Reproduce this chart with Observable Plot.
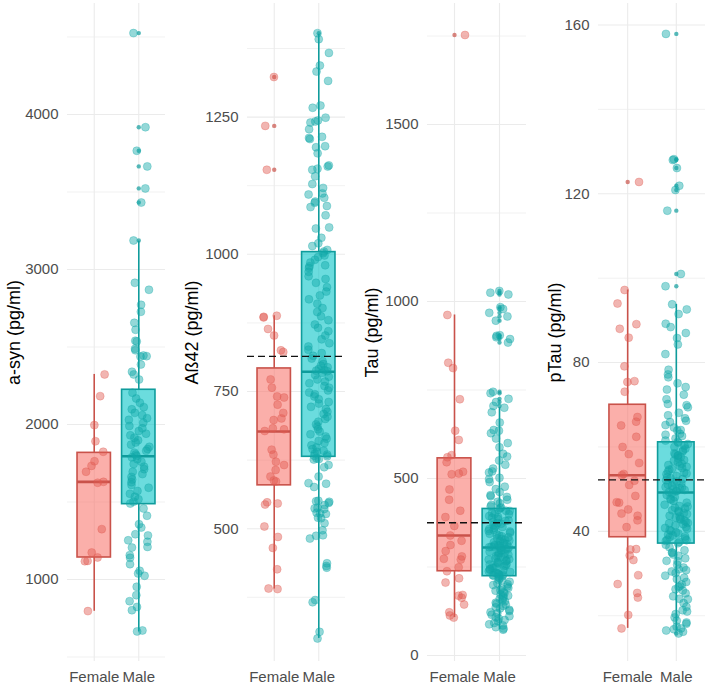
<!DOCTYPE html>
<html><head><meta charset="utf-8">
<script src="https://cdn.jsdelivr.net/npm/d3@7"></script>
<script src="https://cdn.jsdelivr.net/npm/@observablehq/plot@0.6"></script>
<style>
body{margin:0;background:#fff;}
#row{display:flex;width:709px;height:687px;}
#row svg{display:block;}
</style></head><body><div id="row"></div>
<script>
// ---------- categories & labels ----------
const groups = ["Female", "Male"];
const panelTitles = ["a-syn (pg/ml)", "Aß42 (pg/ml)", "Tau (pg/ml)", "pTau (pg/ml)"];

// ---------- tick labels ----------
const asynTicks = [1000, 2000, 3000, 4000];
const asynMinor = [500, 1500, 2500, 3500, 4500];
const abTicks = [500, 750, 1000, 1250];
const abMinor = [375, 625, 875, 1125, 1375];
const tauTicks = [0, 500, 1000, 1500];
const tauMinor = [250, 750, 1250, 1750];
const ptauTicks = [40, 80, 120, 160];
const ptauMinor = [20, 60, 100, 140];

// ---------- box statistics [lower whisker, Q1, median, Q3, upper whisker] ----------
const asynBoxFemale = [795, 1142, 1630, 1817, 2323];
const asynBoxMale = [662, 1486, 1795, 2224, 3183];
const abBoxFemale = [390, 579, 677, 792, 888];
const abBoxMale = [300, 631, 786, 1004, 1401];
const tauBoxFemale = [107, 238, 339, 557, 962];
const tauBoxMale = [73, 224, 305, 414, 700];
const ptauBoxFemale = [17.0, 38.6, 53.3, 70.0, 97.2];
const ptauBoxMale = [16.5, 37.1, 49.2, 61.1, 93.8];

// ---------- reference (dashed) lines ----------
const abRef = [814];
const tauRef = [375];
const ptauRef = [52.2];

// ---------- observations ----------
const asynFemale = [2323, 2183, 1996, 1892, 1824, 1763, 1733, 1695, 1630, 1624, 1325, 1174, 1142, 1118, 1120, 796];
const asynMale = [4525, 3918, 3766, 3665, 3523, 3432,
  3187, 2914, 2869, 2772, 2727, 2656, 2611, 2540, 2536, 2488, 2479, 2441, 2445, 2438, 2387, 2340, 2323, 2290,
  2205, 2168, 2140, 2112, 2098, 2075, 2060, 2041, 2030, 2012, 1990, 1975, 1958, 1941, 1930, 1915, 1898, 1884,
  1870, 1856, 1842, 1830, 1818, 1806, 1797, 1788, 1776, 1760, 1745, 1728, 1712, 1695, 1680, 1662, 1645, 1628,
  1610, 1592, 1571, 1553, 1534, 1518, 1502, 1490,
  1458, 1411, 1357, 1335, 1292, 1284, 1253, 1243, 1210, 1206, 1157, 1140, 1099, 1056, 1039, 1024, 953, 899,
  860, 823, 802, 671, 665];

const abFemale = [1323, 1234, 1154, 888, 886, 885, 864, 852, 825, 822, 772, 757, 741, 739, 726, 711, 701, 698,
  681, 683, 678, 644, 635, 622, 616, 607, 595, 586, 588, 546, 548, 544, 504, 485, 465, 426, 390, 391];
const abMale = [1403, 1392, 1367, 1344, 1333, 1316, 1271, 1267, 1249, 1242, 1240, 1244, 1228, 1212, 1210, 1214,
  1197, 1195, 1184, 1160, 1162, 1156, 1154, 1142, 1128, 1121, 1111, 1109, 1103, 1096, 1094, 1086, 1088, 1071,
  1049, 1047, 1030, 1020, 1015, 1008, 1005,
  1002, 998, 995, 990, 985, 980, 978, 975, 968, 960, 955, 948, 940, 932, 925, 918, 910, 902, 895, 887, 880,
  872, 866, 860, 852, 845, 838, 832, 826, 820, 815, 810, 805, 800, 797, 794, 791, 789, 788, 787,
  784, 780, 777, 772, 768, 765, 760, 757, 752, 748, 745, 741, 736, 731, 728, 722, 718, 713, 709, 704, 700,
  695, 690, 686, 681, 677, 672, 668, 664, 660, 656, 652, 648, 645, 642, 640, 637, 635, 633, 632,
  628, 627, 626, 616, 612, 595, 582, 583, 576, 549, 551, 547, 550, 543, 537, 538, 536, 528, 529, 527, 519,
  520, 510, 497, 487, 488, 482, 437, 432, 429, 370, 366, 312, 300];

const tauFemale = [1753, 962, 827, 812, 724, 635, 609, 566, 560, 546, 519, 512, 514, 469, 440, 409, 391, 366,
  339, 324, 312, 295, 280, 271, 273, 249, 238, 218, 206, 169, 171, 163, 144, 122, 113, 107];
const tauMale = [1030, 1025, 1020, 984, 979, 968, 958, 946, 903, 905, 899, 894, 884, 745, 741, 725, 716, 705,
  700, 687, 658, 637, 635, 628, 613, 600, 588, 570, 562, 551, 539, 528, 520, 517, 502, 498, 490, 477, 470,
  462, 453, 450, 448, 440, 434, 430, 425, 421, 418, 416,
  412, 409, 408, 403, 400, 399, 394, 391, 389, 386, 382, 380, 377, 374, 372, 368, 366, 363, 361, 357, 355,
  352, 350, 347, 344, 342, 339, 337, 334, 331, 329, 327, 325, 322, 320, 318, 316, 314, 312, 311, 309, 308,
  307, 306, 305, 305,
  304, 301, 300, 297, 296, 293, 291, 289, 288, 285, 283, 281, 278, 277, 274, 272, 271, 268, 266, 264, 262,
  260, 258, 257, 254, 252, 250, 248, 247, 244, 242, 240, 238, 236, 234, 233, 231, 230, 228, 227, 226, 225, 224,
  221, 218, 214, 212, 208, 204, 201, 199, 195, 191, 189, 185, 183, 179, 176, 172, 169, 167, 163, 160, 156,
  153, 149, 146, 144, 140, 136, 133, 129, 126, 122, 119, 115, 111, 108, 104, 100, 97, 92, 88, 85, 80, 76, 73];

const ptauFemale = [122.8, 97.2, 94.0, 89.1, 88.0, 85.9, 79.1, 75.4, 75.6, 73.1, 67.1, 66.0, 65.1, 62.4, 60.0,
  58.3, 56.2, 53.6, 53.3, 52.0, 51.0, 48.4, 46.8, 46.9, 45.2, 44.2, 43.7, 42.6, 41.0, 35.8, 35.7, 34.3, 33.2,
  29.6, 27.5, 25.4, 24.3, 20.2, 17.0];
const ptauMale = [157.9, 128.2, 128.0, 126.1, 121.9, 120.9, 116.0, 101.0, 98.1,
  93.8, 92.6, 91.5, 89.2, 88.4, 87.0, 85.8, 84.3, 82.0, 78.3, 77.2, 76.5, 75.1, 74.2, 73.6, 72.4, 71.3, 70.2,
  69.9, 69.4, 68.1, 67.5, 66.8, 66.2, 65.9, 65.2, 64.6, 64.0, 63.9, 63.1, 62.9, 62.6, 62.0, 61.5, 61.2,
  61.0, 60.7, 60.3, 60.0, 59.6, 59.2, 58.9, 58.5, 58.2, 58.0, 57.9, 57.6, 57.3, 56.9, 56.7, 56.4, 56.0, 55.7,
  55.5, 55.3, 55.0, 54.8, 54.6, 54.2, 53.9, 53.7, 53.5, 53.1, 52.8, 52.6, 52.4, 52.1, 51.8, 51.6, 51.4, 51.1,
  50.8, 50.5, 50.4, 50.2, 49.9, 49.8, 49.7, 49.5, 49.3,
  49.0, 48.6, 48.1, 47.7, 47.5, 47.2, 46.8, 46.3, 46.0, 45.9, 45.6, 45.4, 45.0, 44.8, 44.6, 44.3, 44.1, 43.7,
  43.5, 43.2, 43.0, 42.8, 42.5, 42.3, 42.0, 41.9, 41.7, 41.4, 41.0, 40.8, 40.6, 40.3, 40.1, 39.7, 39.5, 39.2,
  39.0, 38.8, 38.6, 38.3, 38.0, 37.9, 37.7, 37.5, 37.2,
  36.8, 36.2, 35.5, 35.0, 34.9, 34.5, 34.2, 33.6, 33.0, 32.9, 32.1, 31.4, 31.0, 30.8, 30.5, 30.1, 29.5, 29.0,
  28.7, 28.0, 27.4, 27.0, 26.8, 26.3, 26.0, 25.3, 24.6, 24.0, 23.9, 23.0, 22.1, 21.3, 21.0, 20.4, 19.6, 18.8,
  18.4, 18.1, 17.4, 17.0, 16.8, 16.5, 16.2, 15.8];

// ---------- styling / layout (not data) ----------
const colors = {
  Female: {fill: "#F8766D", stroke: "#C9524A", point: "#E05A52", out: "#C9524A"},
  Male: {fill: "#00C2C6", stroke: "#0F9C9C", point: "#12A8A8", out: "#0F9C9C"}
};
const panels = [
  {title: panelTitles[0], fem: asynFemale, male: asynMale, boxF: asynBoxFemale, boxM: asynBoxMale, ref: [],
   ticks: asynTicks, minor: asynMinor, domain: [471, 4716], width: 177, ml: 67, mr: 12, tdx: -53, seed: 0.11},
  {title: panelTitles[1], fem: abFemale, male: abMale, boxF: abBoxFemale, boxM: abBoxMale, ref: abRef,
   ticks: abTicks, minor: abMinor, domain: [258, 1457], width: 177, ml: 70, mr: 9, tdx: -55, seed: 0.37},
  {title: panelTitles[2], fem: tauFemale, male: tauMale, boxF: tauBoxFemale, boxM: tauBoxMale, ref: tauRef,
   ticks: tauTicks, minor: tauMinor, domain: [-17, 1842], width: 177, ml: 73, mr: 5, tdx: -55, seed: 0.59},
  {title: panelTitles[3], fem: ptauFemale, male: ptauMale, boxF: ptauBoxFemale, boxM: ptauBoxMale, ref: ptauRef,
   ticks: ptauTicks, minor: ptauMinor, domain: [9.15, 165.1], width: 178, ml: 67, mr: 4, tdx: -43, seed: 0.83}
];

const font = "'Liberation Sans', Arial, Helvetica, sans-serif";
const row = document.getElementById("row");

for (const p of panels) {
  const rng = d3.randomUniform.source(d3.randomLcg(p.seed))(-0.24, 0.24);
  const pts = [];
  p.fem.forEach(v => pts.push({g: "Female", pos: 1, v, jit: rng()}));
  p.male.forEach(v => pts.push({g: "Male", pos: 2, v, jit: rng()}));
  const boxes = [
    {g: "Female", pos: 1, lo: p.boxF[0], q1: p.boxF[1], med: p.boxF[2], q3: p.boxF[3], hi: p.boxF[4]},
    {g: "Male", pos: 2, lo: p.boxM[0], q1: p.boxM[1], med: p.boxM[2], q3: p.boxM[3], hi: p.boxM[4]}
  ];
  const outliers = pts.filter(d => {
    const b = boxes[d.pos - 1];
    return d.v > b.hi + 0.5 || d.v < b.lo - 0.5;
  });
  const hw = 0.375;

  const chart = Plot.plot({
    width: p.width,
    height: 687,
    marginTop: 3,
    marginBottom: 26,
    marginLeft: p.ml,
    marginRight: p.mr,
    x: {type: "linear", domain: [0.4, 2.6], axis: null},
    y: {domain: p.domain, axis: null},
    style: {fontFamily: font, background: "white", overflow: "visible"},
    marks: [
      Plot.ruleY(p.minor, {stroke: "#EEEEEE", strokeWidth: 0.8}),
      Plot.ruleY(p.ticks, {stroke: "#EBEBEB", strokeWidth: 1.1}),
      Plot.ruleX([1, 2], {stroke: "#EBEBEB", strokeWidth: 1.1}),
      // whiskers
      Plot.ruleX(boxes, {x: "pos", y1: "lo", y2: "q1", stroke: d => colors[d.g].stroke, strokeWidth: 1.6}),
      Plot.ruleX(boxes, {x: "pos", y1: "q3", y2: "hi", stroke: d => colors[d.g].stroke, strokeWidth: 1.6}),
      // boxes
      Plot.rect(boxes, {x1: d => d.pos - hw, x2: d => d.pos + hw, y1: "q1", y2: "q3",
        fill: d => colors[d.g].fill, fillOpacity: 0.58, stroke: d => colors[d.g].stroke, strokeWidth: 1.6}),
      Plot.ruleY(boxes, {y: "med", x1: d => d.pos - hw, x2: d => d.pos + hw,
        stroke: d => colors[d.g].stroke, strokeWidth: 2.6}),
      // boxplot outliers
      Plot.dot(outliers, {x: "pos", y: "v", r: 2.2, fill: d => colors[d.g].out, fillOpacity: 0.7, stroke: "none"}),
      // jittered points
      Plot.dot(pts, {x: d => d.pos + d.jit, y: "v", r: 4, fill: d => colors[d.g].point, fillOpacity: 0.45,
        stroke: d => colors[d.g].point, strokeOpacity: 0.5, strokeWidth: 0.6}),
      // dashed reference
      Plot.ruleY(p.ref, {stroke: "#111", strokeWidth: 1.4, strokeDasharray: "7,4"}),
      // axes
      Plot.axisY({ticks: p.ticks, tickSize: 0, tickPadding: 9, tickFormat: d => String(d), label: null,
        fontSize: 15, fill: "#4D4D4D"}),
      Plot.axisX({ticks: [1, 2], tickSize: 0, tickPadding: 10, tickFormat: d => groups[d - 1], label: null,
        fontSize: 15, fill: "#4D4D4D"}),
      Plot.text([p.title], {text: d => d, frameAnchor: "left", dx: p.tdx, rotate: -90, fontSize: 18,
        fill: "#000", textAnchor: "middle"})
    ]
  });
  row.appendChild(chart);
}
</script>
</body></html>
